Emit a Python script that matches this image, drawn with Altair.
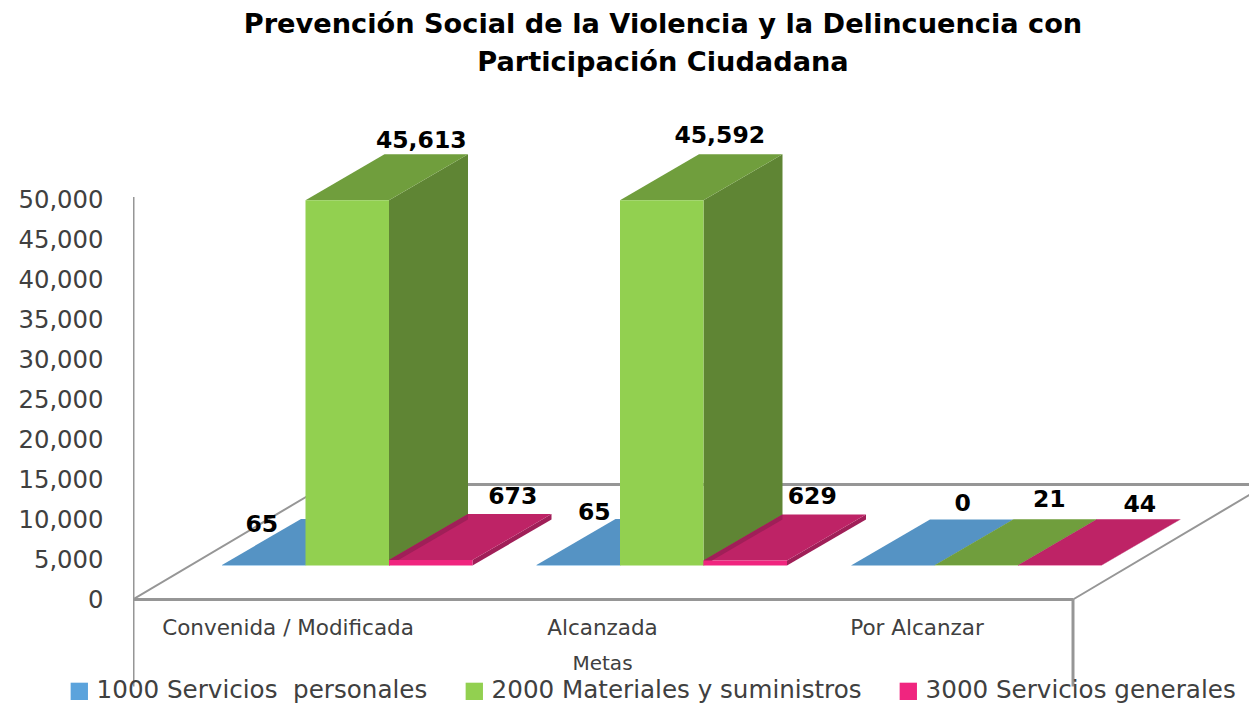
import altair as alt
import numpy as np
import pandas as pd

# ---- values ----
categories = ["Convenida / Modificada", "Alcanzada", "Por Alcanzar"]
series = ["1000 Servicios\u00a0 personales", "2000 Materiales y suministros", "3000 Servicios generales"]
servicios_personales = [65, 65, 0]
materiales = [45613, 45592, 21]
servicios_generales = [673, 629, 44]
axis_values = list(range(0, 50001, 5000))
title_lines = ["Prevención Social de la Violencia y la Delincuencia con", "Participación  Ciudadana"]
axis_title = "Metas"

# ---- colours ----
front = ["#5BA3DC", "#92D050", "#F0257F"]
top = ["#5593C4", "#709E3D", "#BE2366"]
side = ["#4A80AB", "#5F8534", "#A01F58"]
line_grey = "#969696"
text_grey = "#404040"
FONT = "DejaVu Sans"

# ---- projection constants (plot pixels per data unit) ----
PLOT_W, PLOT_H = 1116, 696
PX_X = 314.5          # pixels per category step
PX_Y = 400.5 / 50000  # pixels per value unit
u = lambda px: px / PX_X
v = lambda px: px / PX_Y
DOM_X = [0, PLOT_W / PX_X]
DOM_Y = [-(PLOT_H + 8 - 599.5) / PX_Y, (599.5 - 8) / PX_Y]

BAR_START, BAR_W = u(89), u(83.5)
DX, DY = u(79), v(46)
BASE = v(34)

rows_back, rows_band, rows_front, labels = [], [], [], []
pid = 0


def add_side(rows, x, y0, y1, colour):
    global pid
    pid += 1
    rows.append(dict(p=pid, c=colour, x=x, y=y0, y2=y1))
    rows.append(dict(p=pid, c=colour, x=x + DX, y=y0 + DY, y2=y1 + DY))


def add_top(x, y, colour):
    global pid
    pid += 1
    xs = sorted({x, x + BAR_W, x + DX, x + BAR_W + DX})
    low = np.interp(xs, [x, x + BAR_W, x + BAR_W + DX], [y, y, y + DY])
    upp = np.interp(xs, [x, x + DX, x + BAR_W + DX], [y, y + DY, y + DY])
    for a, b, c in zip(xs, low, upp):
        rows_back.append(dict(p=pid, c=colour, x=float(a), y=float(b), y2=float(c)))


values = [servicios_personales, materiales, servicios_generales]
nudges = [[(-81, 6), (-63, -6), (-9, -16)],
          [(-5, -13), (-21, -18), (-6, -19)],
          [(3, -17), (-12, -17), (1, -14)]]

for g in range(3):
    for s in [0, 1, 2]:
        val = values[s][g]
        x = g + BAR_START + s * BAR_W
        y0, y1 = BASE, BASE + val
        if s == 2:
            add_side(rows_band, x, y0, y1, side[2])   # left side seen against green
        add_side(rows_back, x + BAR_W, y0, y1, side[s])
        add_top(x, y1, top[s])
        rows_front.append(dict(p=f"{g}-{s}", s=series[s], x=x, y=y0, y2=y1))
        rows_front.append(dict(p=f"{g}-{s}", s=series[s], x=x + BAR_W, y=y0, y2=y1))
        nx, ny = nudges[s][g]
        labels.append(dict(x=x + BAR_W / 2 + DX + u(nx), y=y1 + DY - v(ny),
                           t=f"{val:,}"))

# ---- floor and walls ----
F_W = u(940)
F_DX, F_DY = u(194), v(115)
thick = pd.DataFrame([
    dict(l="front", o=0, x=0, y=0), dict(l="front", o=1, x=F_W, y=0),
    dict(l="back", o=0, x=F_DX, y=F_DY), dict(l="back", o=1, x=F_W + F_DX, y=F_DY),
    dict(l="axisL", o=0, x=0, y=50000 + v(2)), dict(l="axisL", o=1, x=0, y=-v(87)),
    dict(l="axisR", o=0, x=F_W, y=0), dict(l="axisR", o=1, x=F_W, y=-v(87)),
])
thin = pd.DataFrame([
    dict(l="dl", o=0, x=0, y=0), dict(l="dl", o=1, x=F_DX, y=F_DY),
    dict(l="dr", o=0, x=F_W, y=0), dict(l="dr", o=1, x=F_W + F_DX, y=F_DY),
])

xs = alt.Scale(domain=DOM_X, nice=False, zero=False)
ys = alt.Scale(domain=DOM_Y, nice=False, zero=False)
X = alt.X("x:Q", scale=xs, axis=None)
Y = alt.Y("y:Q", scale=ys, stack=None,
          axis=alt.Axis(values=axis_values, format=",.0f", domain=False, ticks=False, grid=False,
                        title=None, labelFont=FONT, labelFontSize=24.3, labelColor=text_grey,
                        labelPadding=30, labelOffset=1))

line_thick = alt.Chart(thick).mark_line(color=line_grey, strokeWidth=3, clip=True).encode(
    x=X, y=Y, detail="l:N", order="o:Q")
line_thin = alt.Chart(thin).mark_line(color=line_grey, strokeWidth=2, clip=True).encode(
    x=X, y=Y, detail="l:N", order="o:Q")

faces = alt.Chart(pd.DataFrame(rows_back)).mark_area(opacity=1).encode(
    x=X, y=Y, y2="y2:Q", detail="p:Q", color=alt.Color("c:N", scale=None))
bands = alt.Chart(pd.DataFrame(rows_band)).mark_area(opacity=1).encode(
    x=X, y=Y, y2="y2:Q", detail="p:Q", color=alt.Color("c:N", scale=None))

fronts = alt.Chart(pd.DataFrame(rows_front)).mark_area(opacity=1).encode(
    x=X, y=Y, y2="y2:Q", detail="p:N",
    color=alt.Color("s:N", title=None, scale=alt.Scale(domain=series, range=front),
                    legend=alt.Legend(orient="none", legendX=-66, legendY=671, direction="horizontal",
                                      columns=3, symbolType="square", symbolSize=300, symbolStrokeWidth=0,
                                      labelFont=FONT, labelFontSize=24.6, labelColor=text_grey,
                                      labelOffset=5, columnPadding=34, labelLimit=500)))

value_text = alt.Chart(pd.DataFrame(labels)).mark_text(
    font=FONT, fontSize=23.5, fontWeight="bold", color="#000000", baseline="middle"
).encode(x=X, y=Y, text="t:N")

cat_df = pd.DataFrame(dict(x=[i + u(155) for i in range(3)], y=[-v(29.5)] * 3, t=categories))
cat_text = alt.Chart(cat_df).mark_text(font=FONT, fontSize=21.5, color=text_grey, baseline="middle").encode(
    x=X, y=Y, text="t:N")
met_df = pd.DataFrame(dict(x=[1 + u(155)], y=[-v(64)], t=[axis_title]))
met_text = alt.Chart(met_df).mark_text(font=FONT, fontSize=20, color=text_grey, baseline="middle").encode(
    x=X, y=Y, text="t:N")

chart = alt.layer(line_thick, line_thin, faces, bands, fronts, value_text, cat_text, met_text).properties(
    width=PLOT_W, height=PLOT_H, autosize="none",
    padding={"left": 125, "top": 0, "right": 0, "bottom": 0},
    title=alt.TitleParams(text=title_lines, font=FONT, fontSize=27.2, fontWeight="bold", color="#000000",
                          anchor="middle", dx=-28, dy=73, lineHeight=38),
).configure_view(strokeWidth=0)

chart.save("out.html", embed_options={"renderer": "svg", "actions": False})
